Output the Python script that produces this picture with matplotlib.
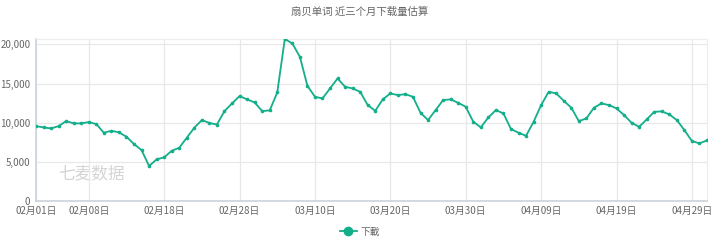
import matplotlib
matplotlib.use('Agg')
import matplotlib.pyplot as plt
from matplotlib.ticker import FuncFormatter

plt.rcParams['font.family'] = ['Noto Sans CJK SC', 'DejaVu Sans']

# daily download estimates, 02/01 .. (90 days)
downloads = [
    9550, 9380, 9250, 9550, 10190, 9900, 9900, 10060, 9810, 8700,
    8950, 8750, 8190, 7250, 6480, 4440, 5290, 5550, 6390, 6780,
    8060, 9340, 10320, 9950, 9750, 11470, 12450, 13390, 12970, 12580,
    11470, 11560, 13860, 20700, 20130, 18420, 14710, 13300, 13090, 14370,
    15650, 14580, 14370, 13940, 12240, 11510, 12970, 13730, 13520, 13640,
    13300, 11250, 10320, 11600, 12880, 12970, 12530, 12020, 10100, 9390,
    10660, 11600, 11170, 9170, 8700, 8310, 10100, 12240, 13940, 13730,
    12790, 11900, 10190, 10530, 11900, 12450, 12240, 11810, 10960, 9970,
    9460, 10400, 11380, 11430, 11050, 10320, 9040, 7630, 7340, 7720,
]
tick_idx = [0, 7, 17, 27, 37, 47, 57, 67, 77, 87]
tick_labels = ['02月01日', '02月08日', '02月18日', '02月28日', '03月10日',
               '03月20日', '03月30日', '04月09日', '04月19日', '04月29日']
y_ticks = [0, 5000, 10000, 15000, 20000]

line_color = '#13ae8a'
grid_color = '#e8e8e8'
text_color = '#666666'

fig = plt.figure(figsize=(7.2, 2.4), dpi=100)
ax = fig.add_axes([36 / 720, 1 - 200.7 / 240, 671 / 720, (200.7 - 39) / 240])

x = list(range(len(downloads)))
ax.plot(x, downloads, color=line_color, linewidth=1.3, marker='o',
        markersize=1.6, label='下載', zorder=3)

ax.set_xlim(0, len(downloads) - 1)
ax.set_ylim(0, max(downloads))
ax.set_xticks(tick_idx)
ax.set_xticklabels(tick_labels)
ax.set_yticks(y_ticks)
ax.yaxis.set_major_formatter(FuncFormatter(lambda v, p: f'{int(v):,}'))
ax.tick_params(axis='both', length=0, labelsize=7, colors=text_color, pad=4)
ax.grid(True, color=grid_color, linewidth=0.9, zorder=0)

for side in ['top', 'right']:
    ax.spines[side].set_color('#eeeeee')
    ax.spines[side].set_linewidth(0.9)
for side in ['left', 'bottom']:
    ax.spines[side].set_color('#ccd3dc')
    ax.spines[side].set_linewidth(1.2)

# watermark
ax.text(0.033, 0.14, '七麦数据', transform=ax.transAxes, fontsize=12,
        style='italic', color='#d4d4d4', zorder=1)

fig.text(0.5, 0.95, '扇贝单词 近三个月下载量估算', ha='center', va='center',
         fontsize=7.5, color=text_color)

leg = fig.legend(loc='center', bbox_to_anchor=(0.5, 0.035), frameon=False,
                 fontsize=7, handlelength=1.8, handletextpad=0.4)
for t in leg.get_texts():
    t.set_color(text_color)
leg.legend_handles[0].set_markersize(6)

fig.savefig('out.png', dpi=100)
